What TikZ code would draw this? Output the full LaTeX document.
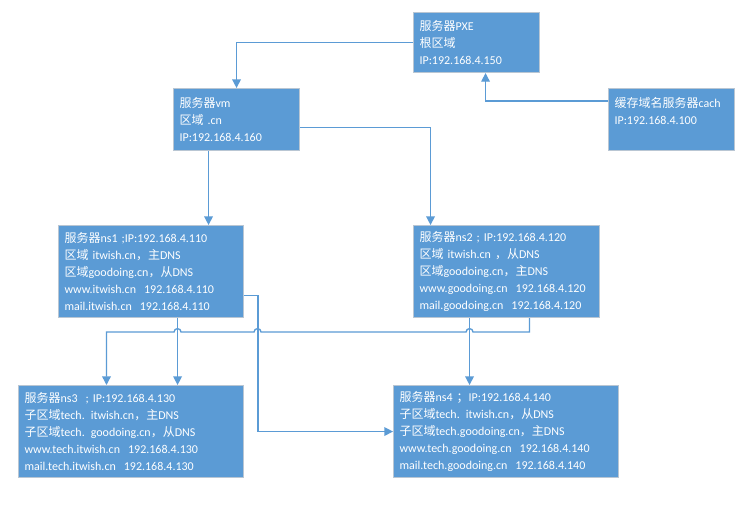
\documentclass[tikz,border=0pt]{standalone}
\usepackage{fontspec}
\setmainfont{Carlito}
\newfontfamily\cjk{Noto Sans CJK SC}
\newcommand\zh[1]{{\cjk #1}}
\usepackage{xcolor}
\usetikzlibrary{arrows.meta}
\definecolor{boxblue}{HTML}{5B9BD5}
\definecolor{boxedge}{HTML}{B9C6D3}
\definecolor{linkblue}{HTML}{5B9BD5}

\begin{document}
\begin{tikzpicture}[
        x=0.75pt, y=-0.75pt,
        font=\fontsize{9}{12.75}\selectfont,
        box/.style={draw=boxedge, line width=0.8pt, fill=boxblue, text=white, anchor=north west, align=left, inner xsep=4.5pt, inner ysep=0pt},
        link/.style={draw=linkblue, line width=1pt, -{Triangle[length=6.5pt, width=6.5pt]}}
      ]
        \path[use as bounding box, fill=white] (0,0) rectangle (756,511);
        \node[box, text width=85.5pt, minimum height=45pt] (pxe) at (413,12) {\zh{服务器}PXE\\\zh{根区域}\\IP:192.168.4.150};
        \node[box, text width=85.5pt, minimum height=46.5pt] (vm) at (173,88) {\zh{服务器}vm\\\zh{区域} .cn\\IP:192.168.4.160};
        \node[box, text width=85.5pt, minimum height=46.5pt] (cach) at (608,88) {\zh{缓存域名服务器}cach\\IP:192.168.4.100\\\mbox{}};
        \node[box, text width=129.75pt, minimum height=69pt] (ns1) at (58,225) {\zh{服务器}ns1 ;IP:192.168.4.110\\\zh{区域} itwish.cn\zh{，主}DNS\\\zh{区域}goodoing.cn\zh{，从}DNS\\www.itwish.cn\ \ 192.168.4.110\\mail.itwish.cn\ \ 192.168.4.110};
        \node[box, text width=130.5pt, minimum height=69pt] (ns2) at (413,225) {\zh{服务器}ns2 ; IP:192.168.4.120\\\zh{区域} itwish.cn \zh{，从}DNS\\\zh{区域}goodoing.cn\zh{，主}DNS\\www.goodoing.cn\ \ 192.168.4.120\\mail.goodoing.cn\ \ 192.168.4.120};
        \node[box, text width=159.75pt, minimum height=69pt] (ns3) at (18,385) {\zh{服务器}ns3\ \ ; IP:192.168.4.130\\\zh{子区域}tech. itwish.cn\zh{，主}DNS\\\zh{子区域}tech. goodoing.cn\zh{，从}DNS\\www.tech.itwish.cn\ \ 192.168.4.130\\mail.tech.itwish.cn\ \ 192.168.4.130};
        \node[box, text width=159.75pt, minimum height=69pt] (ns4) at (393,385) {\zh{服务器}ns4 \zh{；}IP:192.168.4.140\\\zh{子区域}tech. itwish.cn\zh{，从}DNS\\\zh{子区域}tech.goodoing.cn\zh{，主}DNS\\www.tech.goodoing.cn\ \ 192.168.4.140\\mail.tech.goodoing.cn\ \ 192.168.4.140};
        \draw[link] (pxe.west) -| (vm.north);
        \draw[link] ([yshift=14pt]cach.west) -| ([xshift=6.75pt]pxe.south);
        \draw[link] ([xshift=-21pt]vm.south) -- ([xshift=-21pt]vm.south |- ns1.north);
        \draw[link] ([yshift=-6pt]vm.east) -| ([xshift=-57pt]ns2.north);
        \draw[link] ([xshift=19.9pt]ns1.south) -- ([xshift=19.9pt]ns1.south |- ns3.north);
        \draw[link] ([yshift=-18pt]ns1.east) -- ++(14,0) |- (ns4.west);
        \draw[link] ([xshift=-27.75pt]ns2.south) -- ([xshift=-27.75pt]ns2.south |- ns4.north);
        \draw[link] ([xshift=17.25pt]ns2.south) -- ++(0,14) -- ++(-56.5,0)
          arc[start angle=0, end angle=-180, radius=3.5] -- ++(-205,0)
          arc[start angle=0, end angle=-180, radius=3.5] -- ++(-73,0)
          arc[start angle=0, end angle=-180, radius=3.5] -| ([xshift=-18.4pt]ns3.north);
      \end{tikzpicture}
\end{document}
